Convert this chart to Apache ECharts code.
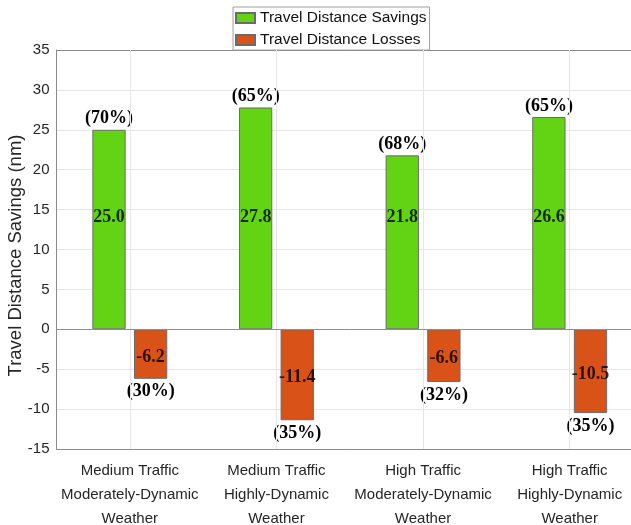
<!DOCTYPE html>
<html>
<head>
<meta charset="utf-8">
<script src="https://cdn.jsdelivr.net/npm/echarts@6/dist/echarts.min.js"></script>
<style>
  html, body { margin: 0; padding: 0; background: #fff; }
  #chart { width: 631px; height: 525px; }
</style>
</head>
<body>
<div id="chart"></div>
<script>
// Scenario categories (three-line axis labels)
const categories = [
  'Medium Traffic\nModerately-Dynamic\nWeather',
  'Medium Traffic\nHighly-Dynamic\nWeather',
  'High Traffic\nModerately-Dynamic\nWeather',
  'High Traffic\nHighly-Dynamic\nWeather'
];
// Travel distance results (nm)
const savings = [25.0, 27.8, 21.8, 26.6];
const losses = [-6.2, -11.4, -6.6, -10.5];
// Share of flights (%) for each outcome
const savingsShare = [70, 65, 68, 65];
const lossShare = [30, 35, 32, 35];
// Y axis ticks
const yMin = -15, yMax = 35, yStep = 5;

const GREEN = '#63d414';
const ORANGE = '#d95319';
const AXIS = '#8a8a8a';
const GRID = '#e6e6e6';
const SANS = '"Liberation Sans", Arial, sans-serif';
const SERIF = '"Liberation Serif", "Times New Roman", serif';
const BAR_W = 33.3;
const HALF_STEP = 20.8;      // distance from category centre to each bar centre
const SAVINGS_LABEL_Y = 14;  // height at which savings values are printed

const valueLabel = {
  show: true,
  fontFamily: SERIF,
  fontWeight: 'bold',
  fontSize: 18,
  color: '#000'
};

const chart = echarts.init(document.getElementById('chart'), null, { renderer: 'canvas' });

chart.setOption({
  animation: false,
  backgroundColor: '#fff',
  grid: {
    left: 56.5, right: -12, top: 50, bottom: 76,
    containLabel: false, outerBoundsMode: 'none'
  },
  legend: {
    data: ['Travel Distance Savings', 'Travel Distance Losses'],
    orient: 'vertical',
    left: 233,
    top: 7,
    icon: 'rect',
    itemWidth: 19,
    itemHeight: 10,
    itemGap: 4,
    padding: [2, 3, 1, 2],
    borderColor: '#a0a0a0',
    borderWidth: 1,
    backgroundColor: '#fff',
    textStyle: { fontFamily: SANS, fontSize: 15.5, color: '#111', lineHeight: 18 },
    selectedMode: false
  },
  xAxis: [
    {
      type: 'category',
      data: categories,
      position: 'bottom',
      axisLine: { onZero: false, lineStyle: { color: AXIS, width: 1 } },
      axisTick: { show: true, inside: true, length: 4, alignWithLabel: true, lineStyle: { color: AXIS } },
      axisLabel: {
        fontFamily: SANS, fontSize: 15, color: '#262626',
        lineHeight: 23.8, margin: 10, interval: 0
      },
      splitLine: { show: false }
    },
    {
      type: 'category',
      data: categories,
      position: 'top',
      axisLine: { onZero: false, lineStyle: { color: AXIS, width: 1 } },
      axisTick: { show: true, inside: true, length: 4, alignWithLabel: true, lineStyle: { color: AXIS } },
      axisLabel: { show: false },
      splitLine: { show: false }
    }
  ],
  yAxis: {
    type: 'value',
    min: yMin,
    max: yMax,
    interval: yStep,
    name: 'Travel Distance Savings (nm)',
    nameLocation: 'middle',
    nameGap: 31.5,
    nameMoveOverlap: false,
    nameTextStyle: { fontFamily: SANS, fontSize: 18.5, color: '#262626', padding: [0, 12, 0, 0] },
    axisLine: { show: true, lineStyle: { color: AXIS, width: 1 } },
    axisTick: { show: false },
    axisLabel: { fontFamily: SANS, fontSize: 15, color: '#262626', margin: 7 },
    splitLine: { show: true, lineStyle: { color: GRID, width: 1 } }
  },
  series: [
    {
      // vertical grid lines at category centres and the zero baseline
      type: 'scatter',
      data: [],
      z: 1,
      silent: true,
      markLine: {
        silent: true,
        symbol: 'none',
        label: { show: false },
        animation: false,
        data: [
          ...categories.map((c) => ({ xAxis: c, lineStyle: { color: GRID, width: 1, type: 'solid' } })),
          { yAxis: 0, lineStyle: { color: '#8f8f8f', width: 1, type: 'solid' } }
        ]
      }
    },
    {
      name: 'Travel Distance Savings',
      type: 'bar',
      data: savings,
      barWidth: BAR_W,
      barGap: '25%',
      itemStyle: { color: GREEN, borderColor: '#6b6b6b', borderWidth: 1 },
      label: {
        ...valueLabel,
        position: 'outside',
        distance: 2,
        formatter: (p) => '(' + savingsShare[p.dataIndex] + '%)'
      },
      z: 2
    },
    {
      name: 'Travel Distance Losses',
      type: 'bar',
      data: losses,
      barWidth: BAR_W,
      barGap: '25%',
      itemStyle: { color: ORANGE, borderColor: '#6b6b6b', borderWidth: 1 },
      label: {
        ...valueLabel,
        position: 'outside',
        distance: 4,
        formatter: (p) => '(' + lossShare[p.dataIndex] + '%)'
      },
      z: 2
    },
    {
      // savings value printed inside each green bar
      type: 'scatter',
      data: savings.map((v, i) => [i, SAVINGS_LABEL_Y]),
      symbolSize: 0,
      silent: true,
      z: 5,
      label: {
        ...valueLabel,
        position: 'inside',
        offset: [-HALF_STEP, 0],
        formatter: (p) => savings[p.dataIndex].toFixed(1)
      }
    },
    {
      // loss value printed at the middle of each orange bar
      type: 'scatter',
      data: losses.map((v, i) => [i, v / 2]),
      symbolSize: 0,
      silent: true,
      z: 5,
      label: {
        ...valueLabel,
        position: 'inside',
        offset: [HALF_STEP, 3],
        formatter: (p) => losses[p.dataIndex].toFixed(1)
      }
    }
  ]
});
</script>
</body>
</html>
